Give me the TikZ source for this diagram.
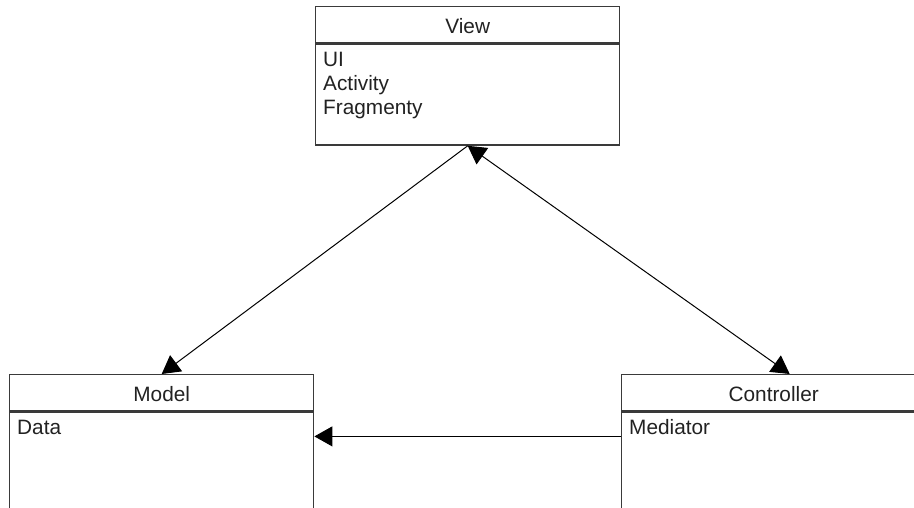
\documentclass[tikz,border=0pt]{standalone}
\usepackage{fontspec}
\setmainfont{Liberation Sans}
\usetikzlibrary{positioning,arrows.meta}

\definecolor{boxgray}{HTML}{3A3A3A}
\definecolor{textgray}{HTML}{222222}

\tikzset{
    classhead/.style={draw=boxgray, line width=1.4pt, rectangle, anchor=north west,
        minimum width=304pt, minimum height=36pt, inner sep=0pt,
        text height=18pt, text depth=0pt, text=textgray},
    classbody/.style={draw=boxgray, line width=1.4pt, rectangle, anchor=north west,
        minimum width=304pt, inner sep=0pt},
    classtext/.style={anchor=north west, align=left, inner sep=0pt, text=textgray},
    link/.style={draw=black, line width=1pt},
    headtip/.tip={Triangle[length=18pt, width=20pt]}
}

\begin{document}
\begin{tikzpicture}[x=1pt, y=-1pt, font=\fontsize{20.8}{24}\selectfont]
\clip (0,0) rectangle (914,508);
\fill[white] (0,0) rectangle (914,508);

\foreach \cname/\cx/\cy/\ctitle/\citems/\cheight in {view/315/6/View/{UI\\Activity\\Fragmenty}/101, model/9/374/Model/{Data}/200, ctrl/621/374/Controller/{Mediator}/200} {
    \node[classhead] (\cname-head) at (\cx,\cy) {\ctitle};
    \node[classbody, minimum height=\cheight pt] (\cname-body) at (\cname-head.south west) {};
    \node[classtext] (\cname-text) at ([shift={(8,8.3)}]\cname-body.north west) {\citems};
}

\coordinate (ctrl-top) at ([xshift=16pt]ctrl-head.north);
\coordinate (mid-link) at ([yshift=-25pt]ctrl-body.north west);

\draw[link, -headtip] (view-body.south) -- (model-head.north);
\draw[link, headtip-headtip] (ctrl-top) -- (view-body.south);
\draw[link, -headtip] (mid-link) -- (mid-link -| model-body.east);
\end{tikzpicture}
\end{document}
